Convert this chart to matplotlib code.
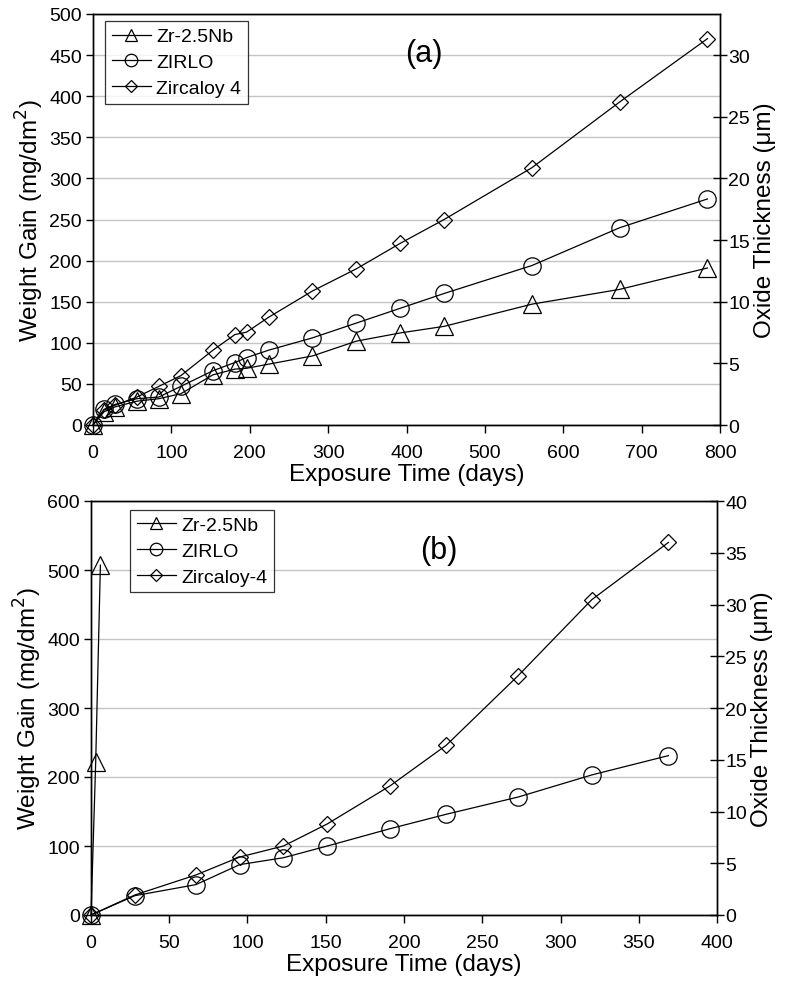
import matplotlib
matplotlib.use("Agg")
import matplotlib.pyplot as plt
import numpy as np

plt.rcParams['font.family'] = ['Liberation Sans', 'DejaVu Sans']

# ---- Panel (a) data ----
days_a = [0, 14, 28, 56, 84, 112, 153, 181, 196, 224, 280, 336, 392, 448, 560, 672, 784]
zr25nb_a = [0, 16, 22, 29, 32, 38, 61, 68, 69, 74, 84, 102, 112, 120, 147, 165, 191]
zirlo_a = [0, 19, 25, 32, 34, 47, 66, 76, 82, 91, 106, 124, 142, 160, 194, 240, 275]
zry4_a = [0, 18, 24, 34, 47, 60, 91, 110, 113, 131, 163, 190, 221, 250, 313, 393, 470]
labels_a = ["Zr-2.5Nb", "ZIRLO", "Zircaloy 4"]

# ---- Panel (b) data ----
days_b_nb = [0, 3, 6]
zr25nb_b = [0, 222, 507]
days_b = [0, 28, 67, 95, 123, 151, 191, 227, 273, 320, 369]
zirlo_b = [0, 28, 44, 73, 83, 100, 125, 146, 171, 203, 231]
zry4_b = [0, 29, 58, 84, 100, 132, 187, 246, 347, 457, 540]
labels_b = ["Zr-2.5Nb", "ZIRLO", "Zircaloy-4"]

RATIO = 15.0  # mg/dm2 per micron

fig = plt.figure(figsize=(7.86, 9.87), dpi=100)

line_kw = dict(color='black', lw=0.9, mfc='none', mec='black', mew=0.9, clip_on=False)


def style_panel(ax, xmax, xstep, ymax, ystep, rstep, tag, tagxy, leg_labels, legpos):
    ax.set_xlim(0, xmax)
    ax.set_ylim(0, ymax)
    ax.set_xticks(np.arange(0, xmax + 1, xstep))
    ax.set_yticks(np.arange(0, ymax + 1, ystep))
    ax.yaxis.grid(True, color='#c4c4c4', lw=1.0)
    ax.set_axisbelow(True)
    for s in ['left', 'bottom', 'right', 'top']:
        ax.spines[s].set_linewidth(1.0)
    ax.tick_params(axis='x', direction='out', length=6, width=1.0, labelsize=14, pad=8)
    ax.tick_params(axis='y', direction='out', length=5, width=1.0, labelsize=14, pad=3)
    ax.set_xlabel("Exposure Time (days)", fontsize=17.5, labelpad=1)
    ax.set_ylabel("Weight Gain (mg/dm$^2$)", fontsize=17.5, labelpad=2)
    ax.text(tagxy[0], tagxy[1], tag, fontsize=22, transform=ax.transAxes, ha='center', va='center')
    ax2 = ax.twinx()
    ax2.set_ylim(0, ymax / RATIO)
    ax2.set_yticks(np.arange(0, ymax / RATIO + 0.01, rstep))
    ax2.tick_params(axis='y', direction='inout', length=10, width=1.0, labelsize=14, pad=1)
    ax2.set_ylabel("Oxide Thickness (\u03bcm)", fontsize=17.5, labelpad=3)
    for s in ['left', 'bottom', 'right', 'top']:
        ax2.spines[s].set_linewidth(1.0)
    leg = ax.legend(leg_labels, loc='upper left', bbox_to_anchor=legpos, fontsize=14,
                    frameon=True, fancybox=False, edgecolor='black', handlelength=2.0,
                    handletextpad=0.3, borderpad=0.35, labelspacing=0.42, markerscale=0.72,
                    borderaxespad=0)
    leg.get_frame().set_linewidth(0.9)
    leg.set_zorder(10)
    return ax2


# Panel (a)
ax1 = fig.add_axes([93 / 786, 1 - 426 / 987, (720 - 93) / 786, (426 - 15) / 987])
ax1.plot(days_a, zr25nb_a, marker='^', ms=12.5, **line_kw)
ax1.plot(days_a, zirlo_a, marker='o', ms=12.5, **line_kw)
ax1.plot(days_a, zry4_a, marker='D', ms=8.3, **line_kw)
style_panel(ax1, 800, 100, 500, 50, 5, "(a)", (0.527, 0.905), labels_a, (0.019, 0.983))

# Panel (b)
ax3 = fig.add_axes([91 / 786, 1 - 916 / 987, (717 - 91) / 786, (916 - 502) / 987])
ax3.plot(days_b_nb, zr25nb_b, marker='^', ms=12.5, **line_kw)
ax3.plot(days_b, zirlo_b, marker='o', ms=12.5, **line_kw)
ax3.plot(days_b, zry4_b, marker='D', ms=8.3, **line_kw)
style_panel(ax3, 400, 50, 600, 100, 5, "(b)", (0.555, 0.882), labels_b, (0.062, 0.979))

fig.savefig("out.png", dpi=100)
